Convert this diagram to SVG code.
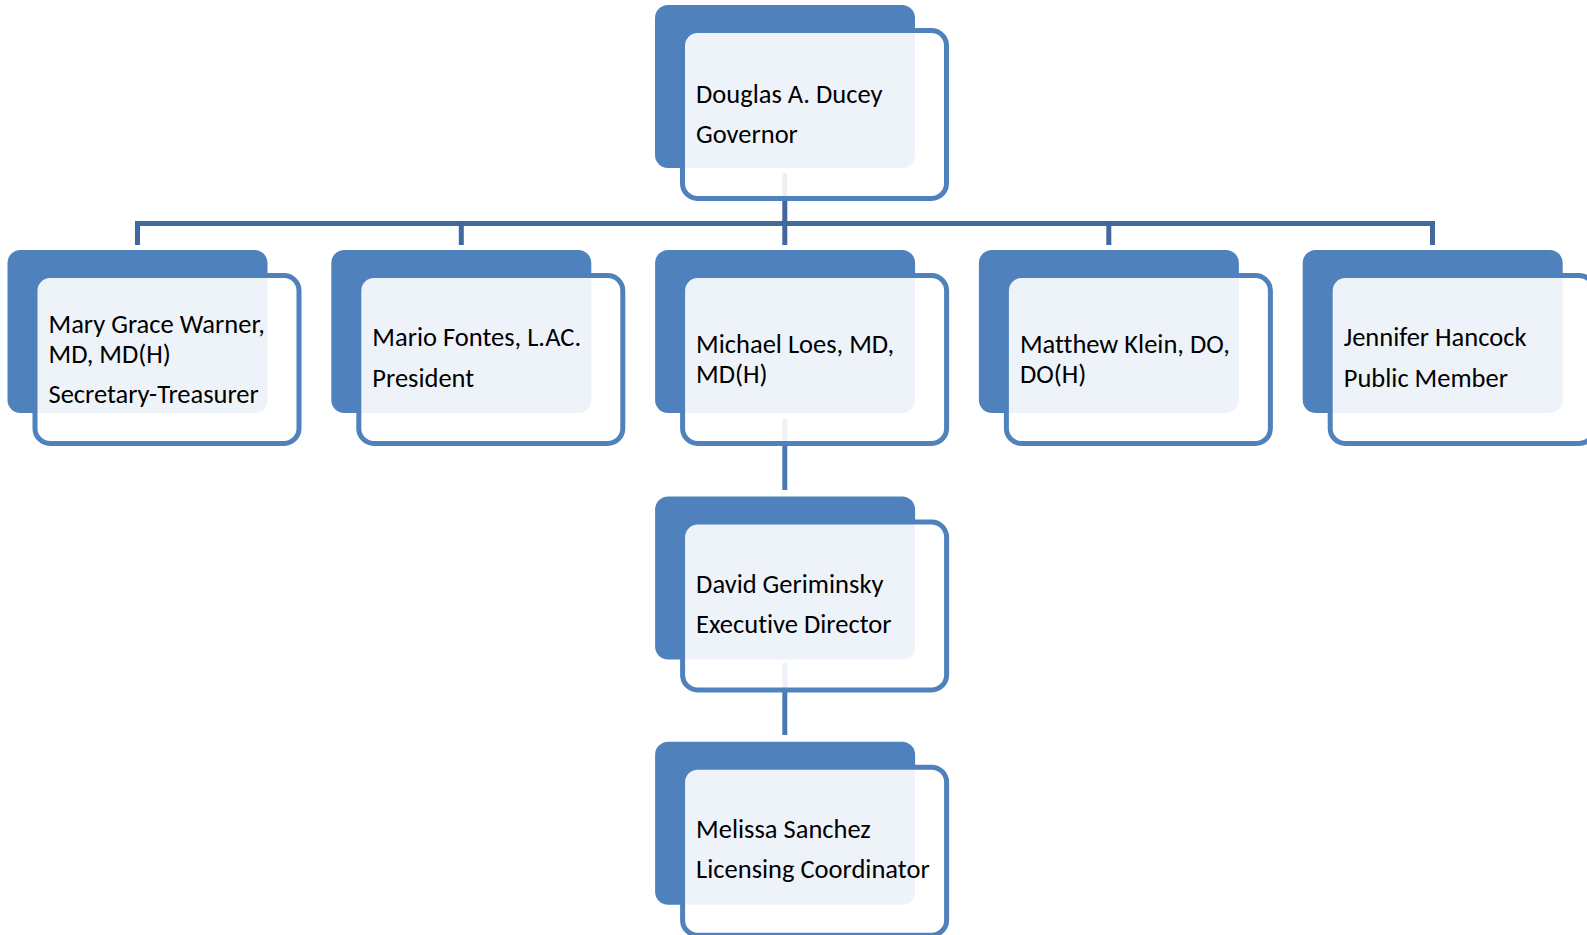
<svg xmlns="http://www.w3.org/2000/svg" width="1587" height="935" viewBox="0 0 1587 935">
  <style>
    .back { fill: #4F81BD; }
    .front { fill: #FFFFFF; fill-opacity: 0.9; stroke: #4F81BD; stroke-width: 5; }
    .t { font-family: Carlito, Lato, "Liberation Sans", sans-serif; font-size: 26.5px; fill: #000000; font-variant-ligatures: none; }
    .c1 { fill: none; stroke: #40699D; stroke-width: 5; stroke-linejoin: miter; }
    .c2 { fill: none; stroke: #4A79B2; stroke-width: 5; }
  </style>
  <rect x="0" y="0" width="1587" height="935" fill="#FFFFFF"/>
  <g id="connectors">
    <path class="c1" d="M784.8 173 V223.5"/>
    <path class="c1" d="M137.5 245 V223.5 H1432.5 V245"/>
    <path class="c1" d="M461.3 223.5 V245 M784.8 223.5 V245 M1108.8 223.5 V245"/>
    <path class="c2" d="M784.8 419 V490"/>
    <path class="c2" d="M784.8 663 V735"/>
  </g>
  <g id="n-ducey" transform="translate(655,5)">
    <rect class="back" width="260" height="163" rx="13"/>
    <rect class="front" x="27.5" y="25.5" width="264" height="168" rx="15"/>
    <text class="t" x="41" y="98.3">Douglas A. Ducey</text>
    <text class="t" x="41" y="138.3">Governor</text>
  </g>
  <g id="n-warner" transform="translate(7.5,250)">
    <rect class="back" width="260" height="163" rx="13"/>
    <rect class="front" x="27.5" y="25.5" width="264" height="168" rx="15"/>
    <text class="t" x="41" y="82.7">Mary Grace Warner,</text>
    <text class="t" x="41" y="112.7">MD, MD(H)</text>
    <text class="t" x="41" y="152.7">Secretary-Treasurer</text>
  </g>
  <g id="n-fontes" transform="translate(331.3,250)">
    <rect class="back" width="260" height="163" rx="13"/>
    <rect class="front" x="27.5" y="25.5" width="264" height="168" rx="15"/>
    <text class="t" x="41" y="96">Mario Fontes, L.AC.</text>
    <text class="t" x="41" y="136.7">President</text>
  </g>
  <g id="n-loes" transform="translate(655.1,250)">
    <rect class="back" width="260" height="163" rx="13"/>
    <rect class="front" x="27.5" y="25.5" width="264" height="168" rx="15"/>
    <text class="t" x="41" y="102.7">Michael Loes, MD,</text>
    <text class="t" x="41" y="132.7">MD(H)</text>
  </g>
  <g id="n-klein" transform="translate(978.9,250)">
    <rect class="back" width="260" height="163" rx="13"/>
    <rect class="front" x="27.5" y="25.5" width="264" height="168" rx="15"/>
    <text class="t" x="41" y="102.7">Matthew Klein, DO,</text>
    <text class="t" x="41" y="132.7">DO(H)</text>
  </g>
  <g id="n-hancock" transform="translate(1302.7,250)">
    <rect class="back" width="260" height="163" rx="13"/>
    <rect class="front" x="27.5" y="25.5" width="264" height="168" rx="15"/>
    <text class="t" x="41" y="96">Jennifer Hancock</text>
    <text class="t" x="41" y="136.7">Public Member</text>
  </g>
  <g id="n-geriminsky" transform="translate(655.1,496.5)">
    <rect class="back" width="260" height="163" rx="13"/>
    <rect class="front" x="27.5" y="25.5" width="264" height="168" rx="15"/>
    <text class="t" x="41" y="96.2">David Geriminsky</text>
    <text class="t" x="41" y="136.2">Executive Director</text>
  </g>
  <g id="n-sanchez" transform="translate(655.1,741.7)">
    <rect class="back" width="260" height="163" rx="13"/>
    <rect class="front" x="27.5" y="25.5" width="264" height="168" rx="15"/>
    <text class="t" x="41" y="96">Melissa Sanchez</text>
    <text class="t" x="41" y="136">Licensing Coordinator</text>
  </g>
</svg>
